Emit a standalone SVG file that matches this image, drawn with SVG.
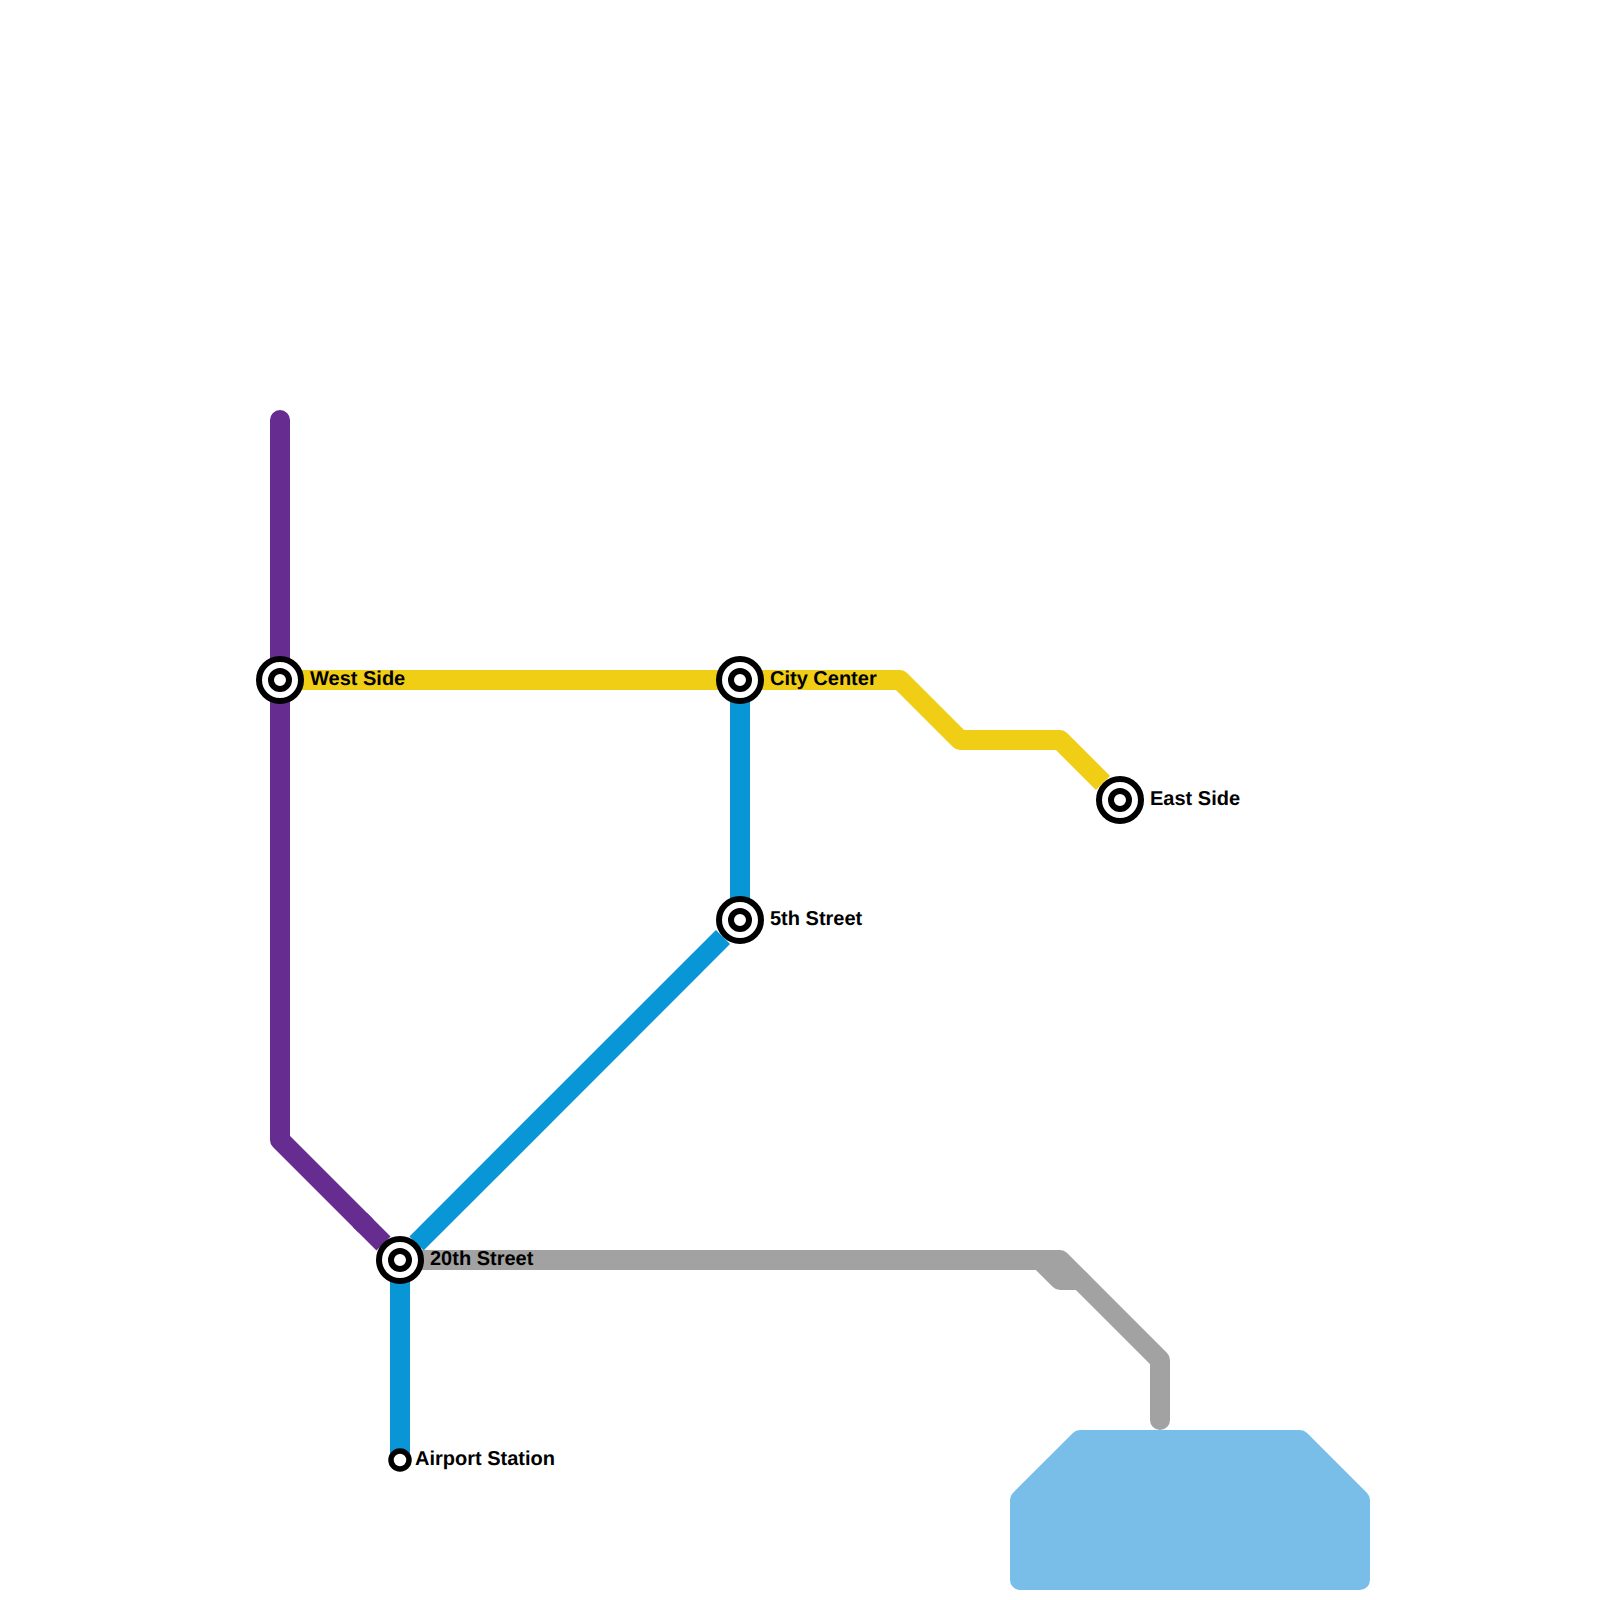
<svg xmlns="http://www.w3.org/2000/svg" width="1600" height="1600" viewBox="0 0 1600 1600">
<style>
.line{fill:none;stroke-width:20;stroke-linecap:round;stroke-linejoin:round}
.cut{fill:none;stroke-width:20;stroke-linecap:butt;stroke-linejoin:round}
.outer{fill:#fff;stroke:#000;stroke-width:6}
.inner{fill:#fff;stroke:#000;stroke-width:6}
.end{fill:#fff;stroke:#000;stroke-width:5.5}
text{font-family:"Liberation Sans",Arial,sans-serif;font-weight:700;font-size:20px;fill:#000;text-rendering:geometricPrecision}
</style>
<rect width="1600" height="1600" fill="#fff"/>
<g id="water"><path d="M1080 1440H1300L1360 1500V1580H1020V1500Z" fill="#79bde9" stroke="#79bde9" stroke-width="20" stroke-linejoin="round"/></g>
<g id="connectors">
<path class="line" stroke="#662c90" d="M280 420V1140L365 1225"/>
<path class="cut" stroke="#662c90" d="M360 1220L383.5 1243.5"/>
<path class="cut" stroke="#f0ce15" d="M280 680H900L960 740H1060L1103 783"/>
<path class="cut" stroke="#0896d7" d="M740 680V920"/>
<path class="cut" stroke="#0896d7" d="M723 937L416.500 1243.500"/>
<path class="cut" stroke="#0896d7" d="M400 1260V1460"/>
<path class="line" stroke="#a2a2a2" d="M400 1260H1060L1160 1360V1420"/>
<path class="line" stroke="#a2a2a2" d="M1040 1260L1060 1280H1080"/>
</g>
<g id="west-side"><circle class="outer" cx="280" cy="680" r="21"/><circle class="inner" cx="280" cy="680" r="9"/><text x="310" y="685">West Side</text></g>
<g id="city-center"><circle class="outer" cx="740" cy="680" r="21"/><circle class="inner" cx="740" cy="680" r="9"/><text x="770" y="685">City Center</text></g>
<g id="east-side"><circle class="outer" cx="1120" cy="800" r="21"/><circle class="inner" cx="1120" cy="800" r="9"/><text x="1150" y="805">East Side</text></g>
<g id="fifth-street"><circle class="outer" cx="740" cy="920" r="21"/><circle class="inner" cx="740" cy="920" r="9"/><text x="770" y="925">5th Street</text></g>
<g id="twentieth-street"><circle class="outer" cx="400" cy="1260" r="21"/><circle class="inner" cx="400" cy="1260" r="9"/><text x="430" y="1265">20th Street</text></g>
<g id="airport-station"><circle class="end" cx="400" cy="1460" r="9"/><text x="415" y="1465">Airport Station</text></g>
</svg>
